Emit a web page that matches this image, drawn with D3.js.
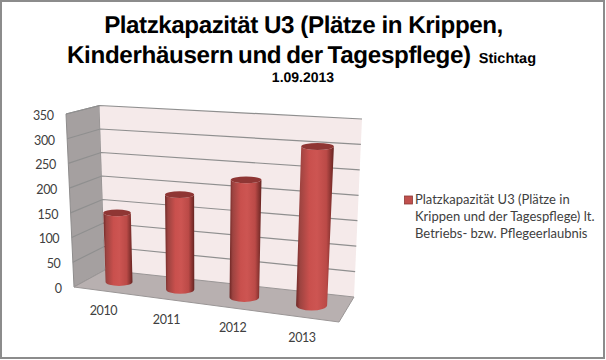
<!DOCTYPE html>
<html>
<head>
<meta charset="utf-8">
<script src="https://cdn.jsdelivr.net/npm/d3@7"></script>
<style>
html, body { margin: 0; padding: 0; background: #fff; }
svg { display: block; }
.title { text-rendering: geometricPrecision; }
</style>
</head>
<body>
<svg id="chart" width="606" height="360"></svg>
<script>
const years = ["2010", "2011", "2012", "2013"];
const places = [142, 190, 230, 304];
const valueTicks = [0, 50, 100, 150, 200, 250, 300, 350];
const titleLines = ["Platzkapazität U3 (Plätze in Krippen,", "Kinderhäusern und der Tagespflege)"];
const legendLines = ["Platzkapazität U3 (Plätze in", "Krippen und der Tagespflege) lt.", "Betriebs- bzw. Pflegeerlaubnis"];

const svg = d3.select("#chart");
const defs = svg.append("defs");

// frame of the screenshot
svg.append("rect").attr("x", 1).attr("y", 1).attr("width", 603).attr("height", 357)
    .attr("fill", "#fff").attr("stroke", "#8c8c8c").attr("stroke-width", 2);

// corners of the 3d box, floor and top
const floorQuad = { fl: [74, 287], bl: [105, 270], br: [354, 297], fr: [339, 322] };
const topQuad = { fl: [66, 114], bl: [99.5, 105.5], br: [362, 119], fr: [349, 130] };

const xScale = d3.scaleBand().domain(years).range([0, 1]).paddingInner(0.55).paddingOuter(0.275);
const yScale = d3.scaleLinear().domain([0, 350]).range([0, 1]);

function mix(a, b, t) {
    return [a[0] + (b[0] - a[0]) * t, a[1] + (b[1] - a[1]) * t];
}
function onQuad(q, u, v) {
    return mix(mix(q.fl, q.fr, u), mix(q.bl, q.br, u), v);
}
// u along the categories, v into the depth, val on the value axis
function project(u, v, val) {
    // categories get wider towards the right, the box is turned a little
    const w = u / (u + 1.1 * (1 - u));
    return mix(onQuad(floorQuad, w, v), onQuad(topQuad, w, v), yScale(val));
}
function poly(points) {
    return "M" + points.map(p => p[0].toFixed(2) + "," + p[1].toFixed(2)).join("L") + "Z";
}

// walls
svg.append("path").attr("fill", "#a5a0a0").attr("stroke", "#8e8c8c")
    .attr("d", poly([project(0, 0, 0), project(0, 1, 0), project(0, 1, 350), project(0, 0, 350)]));
svg.append("path").attr("fill", "#f5eaea")
    .attr("d", poly([project(0, 1, 0), project(1, 1, 0), project(1, 1, 350), project(0, 1, 350)]));
svg.append("path").attr("fill", "#b8b0b0").attr("stroke", "#9a9696")
    .attr("d", poly([project(0, 0, 0), project(1, 0, 0), project(1, 1, 0), project(0, 1, 0)]));

// gridlines around side wall and back wall
const grid = svg.append("g").attr("fill", "none").attr("stroke", "#8f8f8f").attr("stroke-width", 1.2);
valueTicks.forEach(t => {
    if (t === 0) return;
    grid.append("path").attr("d", d3.line()([project(0, 0, t), project(0, 1, t), project(1, 1, t)]));
});

// value axis labels
const labelFont = "Lato, 'Open Sans', sans-serif";
svg.append("g").selectAll("text").data(valueTicks).enter().append("text")
    .attr("x", d => project(0, 0, d)[0] - 12.5)
    .attr("y", d => project(0, 0, d)[1] + 1.5)
    .attr("dy", "0.35em")
    .attr("text-anchor", "end")
    .attr("font-family", labelFont).attr("font-size", 12.5).attr("letter-spacing", -0.4).attr("fill", "#404040")
    .text(d => d);

// category labels
svg.append("g").selectAll("text").data(years).enter().append("text")
    .attr("x", d => project(xScale(d) + xScale.bandwidth() / 2, 0, 0)[0] - 1)
    .attr("y", d => project(xScale(d) + xScale.bandwidth() / 2, 0, 0)[1] + 20)
    .attr("dy", "0.35em")
    .attr("text-anchor", "middle")
    .attr("font-family", labelFont).attr("font-size", 12.5).attr("letter-spacing", -0.4).attr("fill", "#404040")
    .text(d => d);

// cylinders
const gradient = defs.append("linearGradient").attr("id", "barFill");
[[0, "#6e2725"], [0.1, "#9c4340"], [0.35, "#c9504d"], [0.55, "#cd5552"], [0.8, "#bb4a47"], [0.95, "#7c2e2b"], [1, "#642321"]]
    .forEach(s => gradient.append("stop").attr("offset", s[0]).attr("stop-color", s[1]));

const depth = 0.22;
const bars = svg.append("g").selectAll("g").data(d3.zip(years, places)).enter().append("g");
bars.each(function (d) {
    const g = d3.select(this);
    const mid = xScale(d[0]) + xScale.bandwidth() / 2;
    const half = xScale.bandwidth() / 2;
    const base = project(mid, 0.5, 0);
    const top = project(mid, 0.5, d[1]);
    const rxBase = (project(mid + half, 0.5, 0)[0] - project(mid - half, 0.5, 0)[0]) / 2;
    const rxTop = (project(mid + half, 0.5, d[1])[0] - project(mid - half, 0.5, d[1])[0]) / 2;
    const ryBase = (project(mid, 0, 0)[1] - project(mid, 1, 0)[1]) * depth;
    const ryTop = Math.max(3.4, (project(mid, 0, d[1])[1] - project(mid, 1, d[1])[1]) * depth);
    g.append("path").attr("fill", "url(#barFill)")
        .attr("d", `M${top[0] - rxTop},${top[1]} L${base[0] - rxBase},${base[1]}
            A${rxBase},${ryBase} 0 0 0 ${base[0] + rxBase},${base[1]}
            L${top[0] + rxTop},${top[1]}
            A${rxTop},${ryTop} 0 0 1 ${top[0] - rxTop},${top[1]}Z`);
    g.append("ellipse").attr("cx", top[0]).attr("cy", top[1]).attr("rx", rxTop).attr("ry", ryTop)
        .attr("fill", "#8f3634");
});

// title
const titleFont = "'Liberation Sans', Arial, sans-serif";
svg.append("text").attr("class", "title").attr("x", 303.5).attr("y", 33).attr("text-anchor", "middle")
    .attr("font-family", titleFont).attr("font-weight", "bold").attr("font-size", 24.2).attr("letter-spacing", -0.45)
    .attr("fill", "#000").text(titleLines[0]);
const second = svg.append("text").attr("class", "title").attr("x", 67).attr("y", 62.5)
    .attr("font-family", titleFont).attr("font-weight", "bold").attr("font-size", 24.2)
    .attr("fill", "#000");
second.append("tspan").attr("letter-spacing", -0.35).attr("word-spacing", -1.5).text(titleLines[1]);
second.append("tspan").attr("font-size", 14.5).attr("dx", 8).text("Stichtag");
svg.append("text").attr("class", "title").attr("x", 303).attr("y", 82).attr("text-anchor", "middle")
    .attr("font-family", titleFont).attr("font-weight", "bold").attr("font-size", 14)
    .attr("fill", "#000").text("1.09.2013");

// legend
svg.append("rect").attr("x", 404.5).attr("y", 196).attr("width", 8).attr("height", 8)
    .attr("fill", "#c0504d").attr("stroke", "#8c3836").attr("stroke-width", 0.8);
svg.append("g").selectAll("text").data(legendLines).enter().append("text")
    .attr("x", 415).attr("y", (d, i) => 203.5 + i * 17)
    .attr("font-family", labelFont).attr("font-size", 13).attr("fill", "#404040")
    .text(d => d);
</script>
</body>
</html>
